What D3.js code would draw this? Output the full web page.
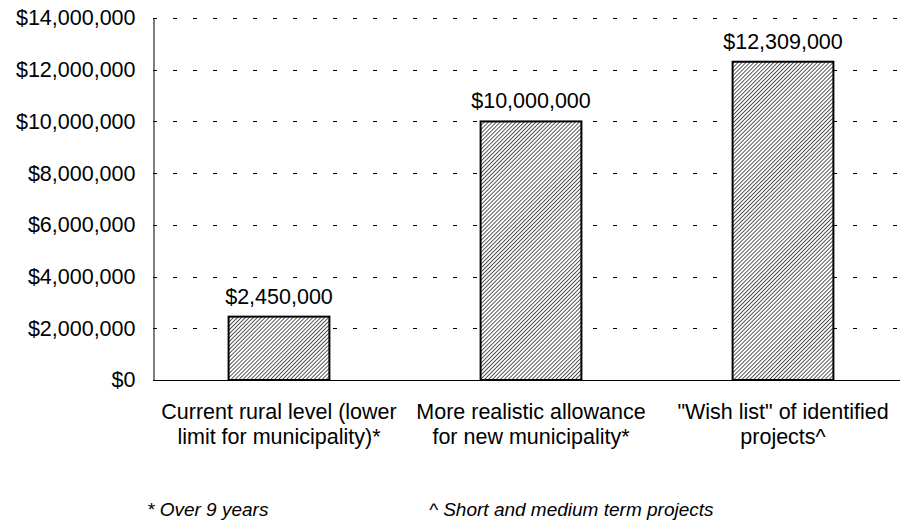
<!DOCTYPE html>
<html>
<head>
<meta charset="utf-8">
<script src="https://cdn.jsdelivr.net/npm/d3@7"></script>
<style>
  html, body { margin: 0; padding: 0; background: #fff; }
  svg { display: block; font-family: "Liberation Sans", Arial, sans-serif; }
</style>
</head>
<body>
<svg id="chart" width="900" height="523"></svg>
<script>
// Funding scenarios
const categories = [
  ["Current rural level (lower", "limit for municipality)*"],
  ["More realistic allowance", "for new municipality*"],
  ["\"Wish list\" of identified", "projects^"]
];
const values = [2450000, 10000000, 12309000];
const yTicks = [0, 2000000, 4000000, 6000000, 8000000, 10000000, 12000000, 14000000];
const footnotes = ["* Over 9 years", "^ Short and medium term projects"];

const svg = d3.select("#chart");
const plotLeft = 153, plotRight = 909, plotTop = 18, plotBottom = 380;

const x = d3.scaleBand().domain(d3.range(categories.length)).range([plotLeft, plotRight]).paddingInner(0.6).paddingOuter(0.3);
const y = d3.scaleLinear().domain([0, 14000000]).range([plotBottom, plotTop]);
const money = v => "$" + d3.format(",")(v);

// hatch fill for the bars
const defs = svg.append("defs");
const pat = defs.append("pattern")
  .attr("id", "hatch").attr("patternUnits", "userSpaceOnUse")
  .attr("width", 2.8).attr("height", 2.8)
  .attr("patternTransform", "rotate(-45)");
pat.append("rect").attr("width", 2.8).attr("height", 2.8).attr("fill", "#fff");
pat.append("line").attr("x1", 0).attr("y1", 0).attr("x2", 2.8).attr("y2", 0)
  .attr("stroke", "#3a3a3a").attr("stroke-width", 1.7);

// dashed gridlines
svg.append("g").selectAll("line").data(yTicks.filter(d => d > 0)).join("line")
  .attr("x1", plotLeft).attr("x2", plotRight)
  .attr("y1", d => Math.round(y(d)) + 0.5).attr("y2", d => Math.round(y(d)) + 0.5)
  .attr("stroke", "#000").attr("stroke-width", 1)
  .attr("stroke-dasharray", "4,16");

// y axis
const yAxis = svg.append("g").attr("transform", `translate(${plotLeft + 0.5},0)`)
  .call(d3.axisLeft(y).tickValues(yTicks).tickFormat(money).tickSize(0).tickPadding(18));
yAxis.select(".domain").attr("stroke", "#000");
yAxis.selectAll("text").attr("font-size", 21.5).attr("fill", "#000")
  .attr("font-family", "Liberation Sans, Arial, sans-serif");

// bars
svg.append("g").selectAll("rect").data(values).join("rect")
  .attr("x", (d, i) => x(i))
  .attr("y", d => y(d))
  .attr("width", x.bandwidth())
  .attr("height", d => y(0) - y(d))
  .attr("fill", "url(#hatch)")
  .attr("stroke", "#000").attr("stroke-width", 2);

// x axis baseline
svg.append("line").attr("x1", plotLeft).attr("x2", plotRight)
  .attr("y1", plotBottom + 0.5).attr("y2", plotBottom + 0.5)
  .attr("stroke", "#000").attr("stroke-width", 1);

// value labels
svg.append("g").selectAll("text").data(values).join("text")
  .attr("x", (d, i) => x(i) + x.bandwidth() / 2)
  .attr("y", d => y(d) - 13)
  .attr("text-anchor", "middle").attr("font-size", 21.5).attr("fill", "#000")
  .text(d => money(d));

// category labels
const cat = svg.append("g").selectAll("text").data(categories).join("text")
  .attr("text-anchor", "middle").attr("font-size", 21.5).attr("fill", "#000");
cat.selectAll("tspan").data((d, i) => d.map(t => ({t, i}))).join("tspan")
  .attr("x", d => x(d.i) + x.bandwidth() / 2)
  .attr("y", (d, j) => 419 + j * 25)
  .text(d => d.t);

// footnotes
svg.append("g").selectAll("text").data(footnotes).join("text")
  .attr("x", (d, i) => [147, 429][i]).attr("y", 516)
  .attr("font-size", 19).attr("font-style", "italic").attr("fill", "#000")
  .text(d => d);
</script>
</body>
</html>
